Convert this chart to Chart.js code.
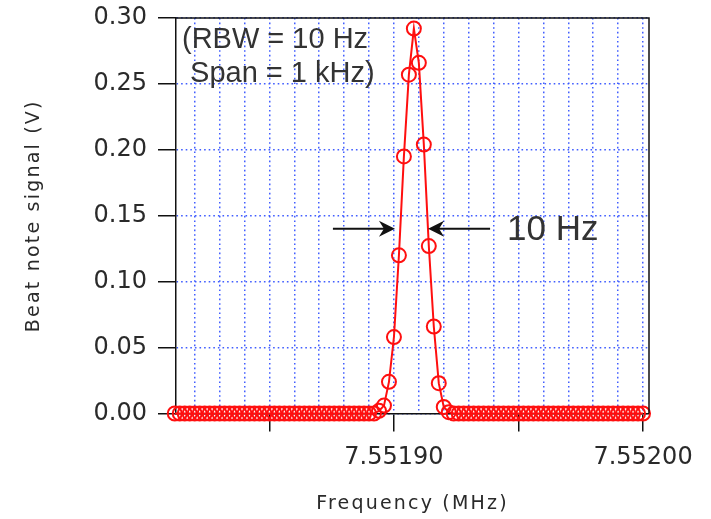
<!DOCTYPE html>
<html>
<head>
<meta charset="utf-8">
<script src="https://cdn.jsdelivr.net/npm/chart.js@4.4.1/dist/chart.umd.min.js"></script>
<style>
  html, body { margin: 0; padding: 0; background: #fff; }
  #wrap { width: 711px; height: 519px; }
</style>
</head>
<body>
<div id="wrap"><canvas id="c" width="711" height="519"></canvas></div>
<script>
// ---- data (frequency in MHz, beat note signal in V) ----
const frequencyMHz = [
  7.551812, 7.551814, 7.551816, 7.551818, 7.551820, 7.551822, 7.551824, 7.551826, 7.551828, 7.551830,
  7.551832, 7.551834, 7.551836, 7.551838, 7.551840, 7.551842, 7.551844, 7.551846, 7.551848, 7.551850,
  7.551852, 7.551854, 7.551856, 7.551858, 7.551860, 7.551862, 7.551864, 7.551866, 7.551868, 7.551870,
  7.551872, 7.551874, 7.551876, 7.551878, 7.551880, 7.551882, 7.551884, 7.551886, 7.551888, 7.551890,
  7.551892, 7.551894, 7.551896, 7.551898, 7.551900, 7.551902, 7.551904, 7.551906, 7.551908, 7.551910,
  7.551912, 7.551914, 7.551916, 7.551918, 7.551920, 7.551922, 7.551924, 7.551926, 7.551928, 7.551930,
  7.551932, 7.551934, 7.551936, 7.551938, 7.551940, 7.551942, 7.551944, 7.551946, 7.551948, 7.551950,
  7.551952, 7.551954, 7.551956, 7.551958, 7.551960, 7.551962, 7.551964, 7.551966, 7.551968, 7.551970,
  7.551972, 7.551974, 7.551976, 7.551978, 7.551980, 7.551982, 7.551984, 7.551986, 7.551988, 7.551990,
  7.551992, 7.551994, 7.551996, 7.551998, 7.552000
];
const signalV = [
  0, 0, 0, 0, 0, 0, 0, 0, 0, 0,
  0, 0, 0, 0, 0, 0, 0, 0, 0, 0,
  0, 0, 0, 0, 0, 0, 0, 0, 0, 0,
  0, 0, 0, 0, 0, 0, 0, 0, 0, 0,
  0, 0.002, 0.006, 0.024, 0.058, 0.120, 0.195, 0.257, 0.292, 0.266,
  0.204, 0.127, 0.066, 0.023, 0.005, 0.001, 0, 0, 0, 0,
  0, 0, 0, 0, 0, 0, 0, 0, 0, 0,
  0, 0, 0, 0, 0, 0, 0, 0, 0, 0,
  0, 0, 0, 0, 0, 0, 0, 0, 0, 0,
  0, 0, 0, 0, 0
];
const xRange = [7.5518125, 7.5520024];
const yRange = [0, 0.30];
const yTickStep = 0.05;
const xGridStepMHz = 0.00001;   // 10 Hz grid
const xTickMarkStepHz = 50;
const xLabelStepHz = 100;
const xRefMHz = 7.5519;
const xTitle = 'Frequency (MHz)';
const yTitle = 'Beat note signal (V)';
const noteLines = ['(RBW = 10 Hz', ' Span = 1 kHz)'];
const noteAnchor = { x: 7.5518149, y: [0.2776, 0.2518] };
const widthLabel = { text: '10 Hz', x: 7.5519454, y: 0.1318 };
const arrows = [
  { from: 7.5518755, to: 7.5519004, y: 0.1401 },
  { from: 7.5519386, to: 7.5519137, y: 0.1401 }
];

const points = frequencyMHz.map((f, i) => ({ x: f, y: signalV[i] }));
const hzOf = v => Math.round((v - xRefMHz) * 1e6);

const GRID_BLUE = 'rgba(55, 85, 255, 0.95)';
const TEXT = '#2a2a2a';
const RED = '#ff0f0f';

const spacingPlugin = {
  id: 'spacing',
  beforeDraw(chart) { chart.ctx.letterSpacing = '2.2px'; },
  beforeDatasetsDraw(chart) { chart.ctx.letterSpacing = '0px'; }
};

const decorPlugin = {
  id: 'decor',
  afterDatasetsDraw(chart) {
    const { ctx, chartArea: a, scales: { x, y } } = chart;
    ctx.save();
    ctx.letterSpacing = '0px';
    // frame (top and right)
    ctx.strokeStyle = '#111';
    ctx.lineWidth = 1.5;
    ctx.beginPath();
    ctx.moveTo(a.left, a.top);
    ctx.lineTo(a.right, a.top);
    ctx.lineTo(a.right, a.bottom);
    ctx.stroke();
    // note text
    ctx.fillStyle = '#333';
    ctx.font = '29px "Liberation Sans", Arial, sans-serif';
    ctx.textAlign = 'left';
    ctx.textBaseline = 'alphabetic';
    noteLines.forEach((t, i) => ctx.fillText(t, x.getPixelForValue(noteAnchor.x), y.getPixelForValue(noteAnchor.y[i])));
    // width label
    ctx.font = '35px "Liberation Sans", Arial, sans-serif';
    ctx.fillText(widthLabel.text, x.getPixelForValue(widthLabel.x), y.getPixelForValue(widthLabel.y));
    // arrows
    ctx.strokeStyle = '#111';
    ctx.fillStyle = '#111';
    ctx.lineWidth = 2;
    arrows.forEach(ar => {
      const x0 = x.getPixelForValue(ar.from), x1 = x.getPixelForValue(ar.to), yy = y.getPixelForValue(ar.y);
      const dir = Math.sign(x1 - x0);
      ctx.beginPath();
      ctx.moveTo(x0, yy);
      ctx.lineTo(x1 - dir * 6, yy);
      ctx.stroke();
      ctx.beginPath();
      ctx.moveTo(x1, yy);
      ctx.lineTo(x1 - dir * 16, yy - 8);
      ctx.lineTo(x1 - dir * 11, yy);
      ctx.lineTo(x1 - dir * 16, yy + 8);
      ctx.closePath();
      ctx.fill();
    });
    ctx.restore();
  }
};

new Chart(document.getElementById('c'), {
  type: 'scatter',
  data: {
    datasets: [{
      data: points,
      showLine: true,
      borderColor: RED,
      borderWidth: 2,
      pointRadius: 7,
      pointBorderWidth: 2,
      pointBorderColor: RED,
      pointBackgroundColor: 'rgba(255,255,255,0)',
      pointHoverRadius: 7,
      clip: false,
      tension: 0
    }]
  },
  options: {
    responsive: false,
    animation: false,
    events: [],
    layout: { padding: { left: 0, top: 18, right: 62, bottom: 0 } },
    plugins: { legend: { display: false }, tooltip: { enabled: false } },
    scales: {
      x: {
        type: 'linear',
        min: xRange[0],
        max: xRange[1],
        afterFit(s) { s.height = 105.5; s.paddingLeft = 0; s.paddingRight = 0; },
        afterBuildTicks(s) {
          const t = [];
          for (let hz = -80; hz <= 100; hz += xGridStepMHz * 1e6) t.push({ value: xRefMHz + hz / 1e6 });
          s.ticks = t;
        },
        ticks: {
          autoSkip: false,
          maxRotation: 0,
          padding: 12,
          z: 1,
          color: TEXT,
          font: { family: '"DejaVu Sans", sans-serif', size: 24 },
          callback: v => (hzOf(v) % xLabelStepHz === 0 ? v.toFixed(5) : '')
        },
        grid: {
          color: GRID_BLUE,
          lineWidth: 1.5,
          tickLength: 18,
          tickWidth: 1.5,
          tickBorderDash: [],
          tickColor: ctx => (ctx.tick && hzOf(ctx.tick.value) % xTickMarkStepHz === 0 ? '#111' : 'rgba(0,0,0,0)')
        },
        border: { display: true, color: '#111', width: 1.5, dash: [1.6, 3] },
        title: {
          display: true,
          text: xTitle,
          color: TEXT,
          font: { family: '"DejaVu Sans", sans-serif', size: 19 },
          padding: { top: 4, bottom: 4 }
        }
      },
      y: {
        type: 'linear',
        min: yRange[0],
        max: yRange[1],
        afterFit(s) { s.width = 176; s.paddingTop = 0; s.paddingBottom = 0; },
        ticks: {
          stepSize: yTickStep,
          padding: 11,
          z: 1,
          color: TEXT,
          font: { family: '"DejaVu Sans", sans-serif', size: 24 },
          callback: v => v.toFixed(2)
        },
        grid: {
          color: GRID_BLUE,
          lineWidth: 1.5,
          tickLength: 18,
          tickWidth: 1.5,
          tickBorderDash: [],
          tickColor: '#111'
        },
        border: { display: true, color: '#111', width: 1.5, dash: [1.6, 3] },
        title: {
          display: true,
          text: yTitle,
          color: TEXT,
          font: { family: '"DejaVu Sans", sans-serif', size: 19 },
          padding: { top: 23, bottom: 4 }
        }
      }
    }
  },
  plugins: [spacingPlugin, decorPlugin]
});
</script>
</body>
</html>
